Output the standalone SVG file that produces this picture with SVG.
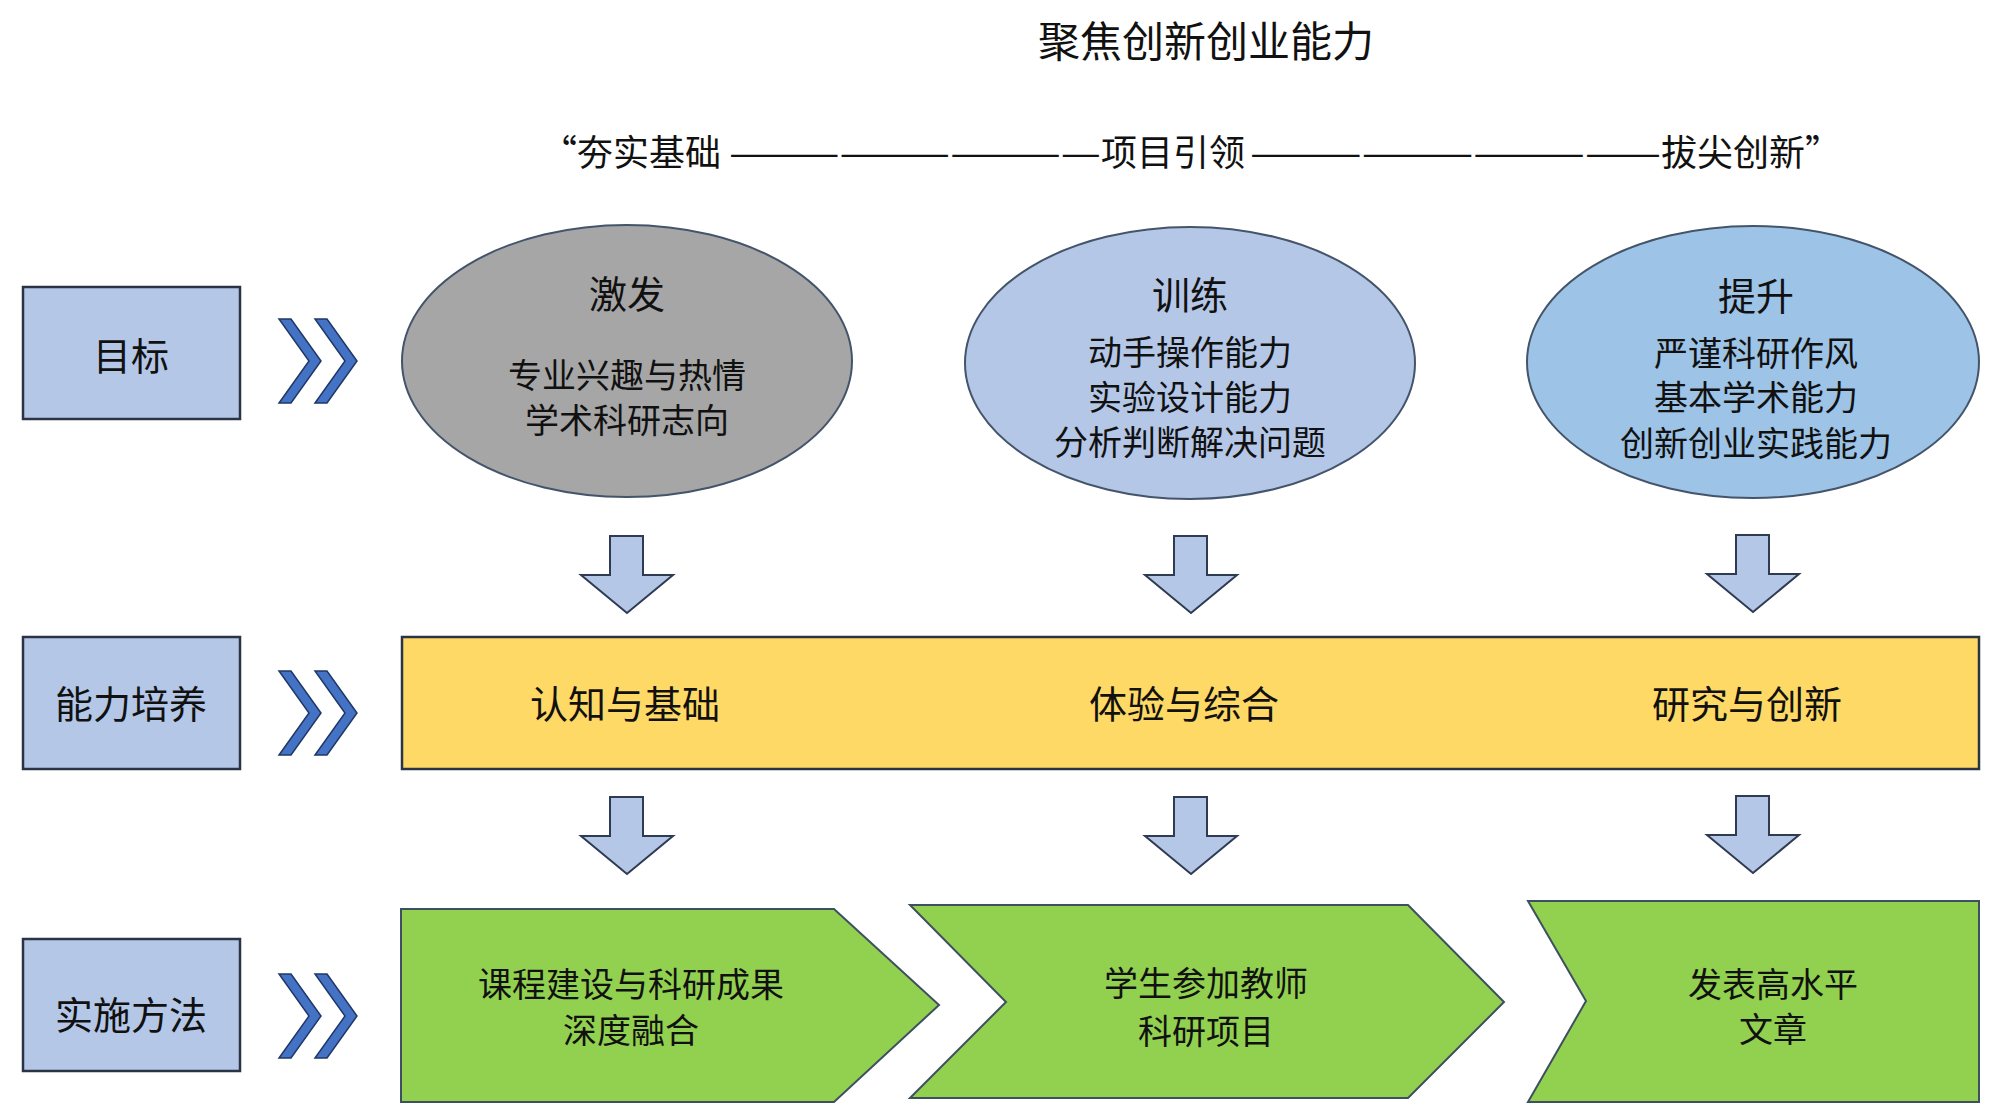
<svg xmlns="http://www.w3.org/2000/svg" width="1999" height="1120" viewBox="0 0 1999 1120">
<style>
text{font-family:"Noto Sans CJK SC","Noto Sans",sans-serif;fill:#111;text-anchor:middle;dominant-baseline:central}
.lbl{fill:#B4C7E7;stroke:#2B3445;stroke-width:2.5}
.chev{fill:#4472C4;stroke:#1F3864;stroke-width:1.5}
.dn{fill:#B4C7E7;stroke:#2F3B52;stroke-width:2}
.grn{fill:#92D050;stroke:#3E5060;stroke-width:2}
.t38{font-size:38px}
.t35{font-size:34px}
</style>
<defs>
<g id="dchev"><polygon class="chev" points="279,-42 291,-42 321,0 291,42 279,42 309,0"/><polygon class="chev" points="315,-42 327,-42 357,0 327,42 315,42 345,0"/></g>
<polygon id="darrow" class="dn" points="-17,0 16,0 16,39 46,39 0,77 -46,39 -17,39"/>
</defs>
<rect width="1999" height="1120" fill="#fff"/>
<text id="title" x="1206" y="38" style="font-size:42px">聚焦创新创业能力</text>
<text id="subtitle" y="150" style="font-size:36px;text-anchor:start"><tspan x="541">“夯实基础</tspan><tspan x="729" textLength="372" lengthAdjust="spacingAndGlyphs">——————————</tspan><tspan x="1101">项目引领</tspan><tspan x="1250" textLength="411" lengthAdjust="spacingAndGlyphs">———————————</tspan><tspan x="1661">拔尖创新”</tspan></text>
<g id="row-goal"><rect class="lbl" x="23" y="287" width="217" height="132"/><text class="t38" x="131" y="353">目标</text></g>
<g id="row-ability"><rect class="lbl" x="23" y="637" width="217" height="132"/><text class="t38" x="131" y="701">能力培养</text></g>
<g id="row-method"><rect class="lbl" x="23" y="939" width="217" height="132"/><text class="t38" x="131" y="1012">实施方法</text></g>
<g id="chevrons"><use href="#dchev" transform="translate(0,361)"/><use href="#dchev" transform="translate(0,713)"/><use href="#dchev" transform="translate(0,1016)"/></g>
<g id="goal-1"><ellipse cx="627" cy="361" rx="225" ry="136" fill="#A6A6A6" stroke="#44546A" stroke-width="2"/><text class="t38" x="627" y="291">激发</text><text class="t35" x="627" y="373">专业兴趣与热情</text><text class="t35" x="627" y="418">学术科研志向</text></g>
<g id="goal-2"><ellipse cx="1190" cy="363" rx="225" ry="136" fill="#B4C7E7" stroke="#44546A" stroke-width="2"/><text class="t38" x="1190" y="292">训练</text><text class="t35" x="1190" y="350">动手操作能力</text><text class="t35" x="1190" y="395">实验设计能力</text><text class="t35" x="1190" y="440">分析判断解决问题</text></g>
<g id="goal-3"><ellipse cx="1753" cy="362" rx="226" ry="136" fill="#9DC3E6" stroke="#44546A" stroke-width="2"/><text class="t38" x="1756" y="293">提升</text><text class="t35" x="1756" y="351">严谨科研作风</text><text class="t35" x="1756" y="395">基本学术能力</text><text class="t35" x="1756" y="441">创新创业实践能力</text></g>
<g id="connectors">
<use href="#darrow" transform="translate(627,536)"/><use href="#darrow" transform="translate(1191,536)"/><use href="#darrow" transform="translate(1753,535)"/>
<use href="#darrow" transform="translate(627,797)"/><use href="#darrow" transform="translate(1191,797)"/><use href="#darrow" transform="translate(1753,796)"/>
</g>
<g id="ability-band"><rect x="402" y="637" width="1577" height="132" fill="#FFD966" stroke="#2B3445" stroke-width="2.5"/><text class="t38" x="625" y="701">认知与基础</text><text class="t38" x="1184" y="701">体验与综合</text><text class="t38" x="1747" y="701">研究与创新</text></g>
<g id="method-1"><polygon class="grn" points="401,909 834,909 939,1005 834,1102 401,1102"/><text class="t35" x="631" y="982">课程建设与科研成果</text><text class="t35" x="631" y="1028">深度融合</text></g>
<g id="method-2"><polygon class="grn" points="910,905 1408,905 1504,1002 1408,1098 910,1098 1006,1002"/><text class="t35" x="1206" y="981">学生参加教师</text><text class="t35" x="1206" y="1029">科研项目</text></g>
<g id="method-3"><polygon class="grn" points="1528,901 1979,901 1979,1102 1528,1102 1586,1001"/><text class="t35" x="1773" y="982">发表高水平</text><text class="t35" x="1773" y="1027">文章</text></g>
</svg>
